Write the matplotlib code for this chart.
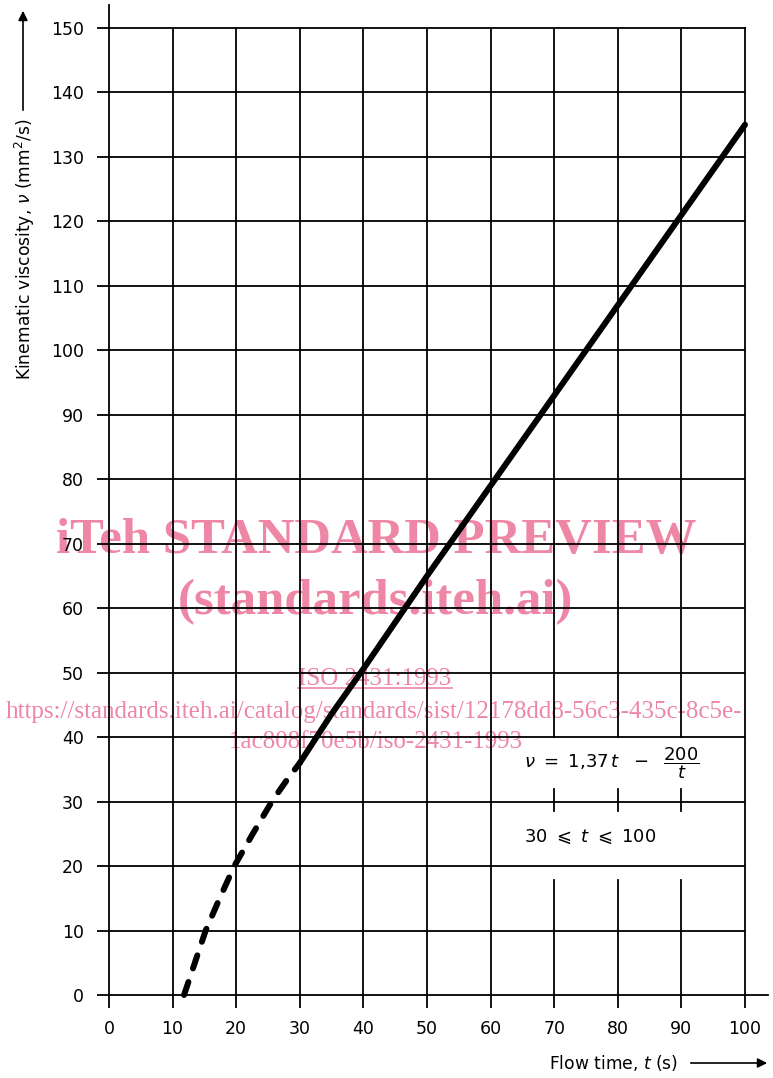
import matplotlib
matplotlib.use("Agg")
import matplotlib.pyplot as plt
from matplotlib.patches import FancyArrowPatch
from matplotlib.lines import Line2D

# ---- data ----
t_dashed = [11.8, 13.5, 15.2, 17.4, 19.7, 22.6, 25.6, 28.0, 30.0]
v_dashed = [0.0, 5.0, 10.0, 15.0, 20.0, 25.0, 30.0, 33.4, 36.0]
t_solid = [30.0, 35.0, 40.0, 50.0, 60.0, 70.0, 80.0, 90.0, 100.0]
v_solid = [36.0, 43.6, 50.6, 65.0, 79.0, 93.0, 107.0, 121.0, 135.0]

x_ticks = [0, 10, 20, 30, 40, 50, 60, 70, 80, 90, 100]
y_ticks = [0, 10, 20, 30, 40, 50, 60, 70, 80, 90, 100, 110, 120, 130, 140, 150]
x_label = "Flow time, $t$ (s)"
y_label = "Kinematic viscosity, $\\nu$ (mm$^2$/s)"
formula = r"$\nu\ =\ 1{,}37\,t\ \ -\ \ \dfrac{200}{t}$"
validity = r"$30\ \leqslant\ t\ \leqslant\ 100$"

wm_title = "iTeh STANDARD PREVIEW"
wm_sub = "(standards.iteh.ai)"
wm_iso = "ISO 2431:1993"
wm_url1 = "https://standards.iteh.ai/catalog/standards/sist/12178dd8-56c3-435c-8c5e-"
wm_url2 = "1ac808f70e5b/iso-2431-1993"

W, H = 773, 1078
plt.rcParams["font.family"] = ["DejaVu Sans"]
fig = plt.figure(figsize=(W / 100, H / 100), dpi=100)
fig.patch.set_facecolor("white")

def fx(px):
    return px / W

def fy(py):
    return 1 - py / H

ax = fig.add_axes([fx(109), fy(995), fx(745) - fx(109), fy(28) - fy(995)])
ax.patch.set_visible(False)
ax.set_xlim(0, 100)
ax.set_ylim(0, 150)

lw_grid = 1.3
for s in ax.spines.values():
    s.set_linewidth(lw_grid)
    s.set_color("black")

ax.set_xticks(x_ticks)
ax.set_yticks(y_ticks)
ax.set_xticklabels([str(v) for v in x_ticks])
ax.set_yticklabels([str(v) for v in y_ticks])
ax.tick_params(axis="both", direction="out", length=9, width=lw_grid,
               labelsize=12.5, colors="black")
ax.tick_params(axis="y", pad=9)
ax.tick_params(axis="x", pad=9)

# grid lines
box_x0, box_x1 = 60, 100
box_y0, box_y1 = 17.8, 40
for xv in x_ticks[1:-1]:
    if box_x0 < xv < box_x1:
        ax.plot([xv, xv], [0, box_y0], color="black", lw=lw_grid, zorder=1)
        ax.plot([xv, xv], [box_y1, 150], color="black", lw=lw_grid, zorder=1)
        ax.plot([xv, xv], [28.6, 32.0], color="black", lw=lw_grid, zorder=1)
    else:
        ax.plot([xv, xv], [0, 150], color="black", lw=lw_grid, zorder=1)
for yv in y_ticks[1:-1]:
    ax.plot([0, 100], [yv, yv], color="black", lw=lw_grid, zorder=1)

# extended left spine at top and bottom line to the right
ax.plot([0, 0], [150, 153.5], color="black", lw=lw_grid, clip_on=False)
ax.plot([100, 103.6], [0, 0], color="black", lw=lw_grid, clip_on=False)

# curve
ax.plot(t_dashed, v_dashed, color="black", lw=4.3, dashes=(2.3, 2.4),
        dash_capstyle="round", zorder=4, clip_on=False)
ax.plot(t_solid, v_solid, color="black", lw=4.3, solid_capstyle="round",
        zorder=4, clip_on=False)

# formula texts
ax.text(65.2, 36.0, formula, fontsize=13, ha="left", va="center", zorder=5)
ax.text(65.2, 24.6, validity, fontsize=13, ha="left", va="center", zorder=5)

# axis labels with arrows
fig.text(fx(25), fy(380), y_label, rotation=90, ha="center", va="bottom",
         fontsize=12.3)
fig.add_artist(FancyArrowPatch((fx(23), fy(113)), (fx(23), fy(8)),
                               transform=fig.transFigure, arrowstyle="-|>",
                               mutation_scale=14, lw=1.2, color="black"))
fig.text(fx(549), fy(1063), x_label, ha="left", va="center", fontsize=12.3)
fig.add_artist(FancyArrowPatch((fx(688), fy(1063)), (fx(770), fy(1063)),
                               transform=fig.transFigure, arrowstyle="-|>",
                               mutation_scale=14, lw=1.2, color="black"))

# watermark
pink = "#ee86a6"
serif = ["Liberation Serif", "DejaVu Serif"]
fig.text(fx(376), fy(541), wm_title, ha="center", va="center", fontsize=36.5,
         fontweight="bold", family=serif, color=pink, zorder=-1)
fig.text(fx(375), fy(602), wm_sub, ha="center", va="center", fontsize=36.5,
         fontweight="bold", family=serif, color=pink, zorder=-1)
iso_t = fig.text(fx(375), fy(679), wm_iso, ha="center", va="center",
                 fontsize=18, family=serif, color=pink, zorder=-1)
fig.text(fx(374), fy(712), wm_url1, ha="center", va="center", fontsize=18,
         family=serif, color=pink, zorder=-1)
fig.text(fx(376), fy(742), wm_url2, ha="center", va="center", fontsize=18,
         family=serif, color=pink, zorder=-1)

fig.canvas.draw()
bb = iso_t.get_window_extent(renderer=fig.canvas.get_renderer())
bb = bb.transformed(fig.transFigure.inverted())
fig.add_artist(Line2D([bb.x0, bb.x1], [bb.y0 + 0.002, bb.y0 + 0.002],
                      transform=fig.transFigure, color=pink, lw=1.2, zorder=-1))

fig.savefig("out.png", dpi=100, facecolor="white")
